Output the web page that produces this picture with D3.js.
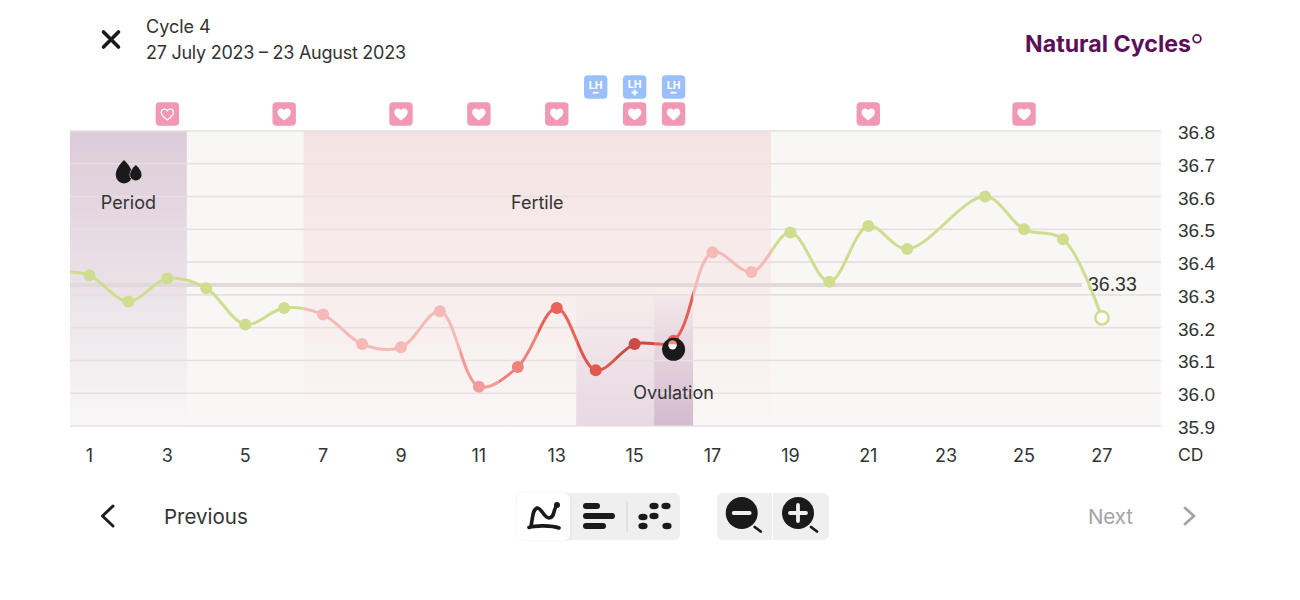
<!DOCTYPE html>
<html><head><meta charset="utf-8">
<script src="https://cdn.jsdelivr.net/npm/d3@7/dist/d3.min.js"></script>
<style>
html,body{margin:0;padding:0;background:#fff;overflow:hidden}
svg{display:block}
text{font-family:Inter,"Noto Sans",sans-serif;fill:#333}
.num text,.num{font-family:"Liberation Sans",Arial,sans-serif;fill:#333;font-size:18.5px}
</style></head><body>
<svg id="c" width="1300" height="600"></svg>
<script>
// ---- data ----
const lineDays  = [0.5,1,2,3,4,5,6,7,8,9,10,11,12,13,14,15,16,17,18,19,20,21,22,24,25,26,27];
const lineTemps = [36.37,36.36,36.28,36.35,36.32,36.21,36.26,36.24,36.15,36.14,36.25,36.02,36.08,36.26,36.07,36.15,36.16,36.43,36.37,36.49,36.34,36.51,36.44,36.60,36.50,36.47,36.23];
const dotColors = ["none","#cfdd8f","#cfdd8f","#cfdd8f","#cfdd8f","#cfdd8f","#cfdd8f","#f5b9b6","#f5b9b6","#f5b9b6","#f5b9b6","#f39b96","#ef807a","#ea6259","#e0574e","#cd4a45","#e65f56","#f5b9b6","#f5b9b6","#cfdd8f","#cfdd8f","#cfdd8f","#cfdd8f","#cfdd8f","#cfdd8f","#cfdd8f","#cfdd8f"];
const xTicks = [1,3,5,7,9,11,13,15,17,19,21,23,25,27];
const yTicks = [35.9,36.0,36.1,36.2,36.3,36.4,36.5,36.6,36.7,36.8];
const heartDays = [3,6,9,11,13,15,16,21,25];
const heartOutline = [3];
const lhDays = [14,15,16];
const lhSigns = ["-","+","-"];
const coverLine = 36.33;
const phaseLabels = [["Period",2],["Fertile",12.5]];
const bands = [
 {from:0.5,to:3.5,top:"#dccbd9",bot:"#f8f7f6",y0:36.8,y1:35.9},
 {from:6.5,to:18.5,top:"#f5e3e3",bot:"#f9f6f5",y0:36.8,y1:35.9},
 {from:13.5,to:15.5,top:"#f6ecec",bot:"#e6d9e3",y0:36.3,y1:35.9},
 {from:15.5,to:16.5,top:"#f2e8ea",bot:"#d4bacf",y0:36.3,y1:35.9}
];
const colorBreaks = [[0.5,6.5,"#cfdd8f"],[6.5,10.5,"#f5b9b6"],[10.5,11.5,"#f39b96"],[11.5,12.5,"#ef807a"],[12.5,13.5,"#ea6259"],[13.5,14.5,"#e0574e"],[14.5,15.5,"#cd4a45"],[15.5,16.5,"#e65f56"],[16.5,18.5,"#f5b9b6"],[18.5,27.5,"#cfdd8f"]];

// ---- scales ----
const svg = d3.select("#c");
const xEnd = 28.517;
const x = d3.scaleLinear().domain([0.5,xEnd]).range([70,1161]);
const y = d3.scaleLinear().domain([35.9,36.8]).range([426,131]);
const defs = svg.append("defs");

// background
svg.append("rect").attr("x",x(0.5)).attr("y",y(36.8)).attr("width",x(xEnd)-x(0.5)).attr("height",y(35.9)-y(36.8)).attr("fill","#f8f7f6");
bands.forEach((b,i)=>{
  const g = defs.append("linearGradient").attr("id","b"+i).attr("x1",0).attr("x2",0).attr("y1",0).attr("y2",1);
  g.append("stop").attr("offset",0).attr("stop-color",b.top);
  g.append("stop").attr("offset",1).attr("stop-color",b.bot);
  svg.append("rect").attr("x",x(b.from)).attr("width",x(b.to)-x(b.from)).attr("y",y(b.y0)).attr("height",y(b.y1)-y(b.y0)).attr("fill",`url(#b${i})`);
});

// grid
svg.append("g").selectAll("line").data(yTicks).join("line")
 .attr("x1",x(0.5)).attr("x2",x(xEnd)).attr("y1",d=>y(d)).attr("y2",d=>y(d))
 .attr("stroke","#e9dfdf").attr("stroke-width",1.6);
svg.append("line").attr("x1",x(0.5)).attr("x2",x(27)-20).attr("y1",y(coverLine)).attr("y2",y(coverLine)).attr("stroke","#e2d9da").attr("stroke-width",4);
svg.append("text").attr("class","num").attr("x",1088).attr("y",y(coverLine)+5.5).style("font-size","19.5px").text(coverLine);

// axes
const ax = svg.append("g").attr("class","num").attr("transform",`translate(0,${y(35.9)})`)
 .call(d3.axisBottom(x).tickValues(xTicks).tickSize(0).tickPadding(23).offset(0).tickFormat(d3.format("d")));
ax.select(".domain").remove();
ax.selectAll("text").style("font-size","18px").style("font-family",'Inter,sans-serif');
const ay = svg.append("g").attr("class","num").attr("transform",`translate(1178,0)`)
 .call(d3.axisRight(y).tickValues(yTicks).tickSize(0).tickPadding(0).offset(0).tickFormat(d3.format(".1f")));
ay.select(".domain").remove();
ay.selectAll("text").attr("dy","0.42em").style("font-size","19px");
svg.append("text").attr("x",1178).attr("y",461).attr("font-size",17.5).text("CD");

// line
const line = d3.line().x((d,i)=>x(lineDays[i])).y(d=>y(d)).curve(d3.curveCatmullRom.alpha(0.5));
const pathD = line(lineTemps);
colorBreaks.forEach((c,i)=>{
  defs.append("clipPath").attr("id","cl"+i).append("rect").attr("x",x(c[0])).attr("width",x(c[1])-x(c[0])).attr("y",0).attr("height",600);
  svg.append("path").attr("d",pathD).attr("fill","none").attr("stroke",c[2]).attr("stroke-width",3).attr("clip-path",`url(#cl${i})`);
});
// dots
svg.append("g").selectAll("circle").data(lineTemps.slice(1,-1)).join("circle")
 .attr("cx",(d,i)=>x(lineDays[i+1])).attr("cy",d=>y(d)).attr("r",6).attr("fill",(d,i)=>dotColors[i+1]);
svg.append("circle").attr("cx",x(27)).attr("cy",y(lineTemps[lineTemps.length-1])).attr("r",6.6).attr("fill","#fff").attr("stroke","#cfdd8f").attr("stroke-width",2.6);

// ovulation marker
const ovX = x(16), ovY = y(lineTemps[lineDays.indexOf(16)])+8.5;
svg.append("circle").attr("cx",ovX).attr("cy",ovY).attr("r",11.5).attr("fill","#1a1a1a");
svg.append("circle").attr("cx",ovX-1).attr("cy",ovY-4).attr("r",4.2).attr("fill","#fdf3ef");
svg.append("path").attr("d",`M${ovX-5},${ovY-5}a4,4 0 0 1 8,0z`).attr("fill","#ee8d84");

// text labels
phaseLabels.forEach(p=>svg.append("text").attr("x",x(p[1])).attr("y",208.5).attr("text-anchor","middle").attr("font-size",18).text(p[0]));
svg.append("text").attr("x",x(16)).attr("y",398.5).attr("text-anchor","middle").attr("font-size",18).text("Ovulation");
// drops
const drop=(cx,top,w,h)=>`M${cx},${top}C${cx+w*.28},${top+h*.2} ${cx+w/2},${top+h*.4} ${cx+w/2},${top+h*.64}A${w/2},${h*.36} 0 0 1 ${cx-w/2},${top+h*.64}C${cx-w/2},${top+h*.4} ${cx-w*.28},${top+h*.2} ${cx},${top}z`;
svg.append("path").attr("d",drop(124,160,16.5,23.5)).attr("fill","#1a1a1a");
svg.append("path").attr("d",drop(135.8,165,11.5,15.5)).attr("fill","#1a1a1a").attr("stroke","#dfd0dc").attr("stroke-width",1.2).attr("paint-order","stroke");

// heart markers
const heart="M0,6.2C-2,4.6 -6.4,1.8 -6.4,-1.6C-6.4,-3.9 -4.7,-5.2 -3,-5.2C-1.7,-5.2 -.6,-4.5 0,-3.4C.6,-4.5 1.7,-5.2 3,-5.2C4.7,-5.2 6.4,-3.9 6.4,-1.6C6.4,1.8 2,4.6 0,6.2z";
const hg = svg.append("g").selectAll("g").data(heartDays).join("g").attr("transform",d=>`translate(${x(d)},114)`);
hg.append("rect").attr("x",-11.7).attr("y",-11.7).attr("width",23.4).attr("height",23.4).attr("rx",4).attr("fill","#f098b6");
hg.append("path").attr("d",heart).attr("fill",d=>heartOutline.includes(d)?"none":"#fff").attr("stroke","#fff").attr("stroke-width",d=>heartOutline.includes(d)?1.3:0).attr("transform",d=>heartOutline.includes(d)?"scale(.95)":"scale(1.05)");

// LH markers
const lg = svg.append("g").selectAll("g").data(lhDays).join("g").attr("transform",d=>`translate(${x(d)},87)`);
lg.append("rect").attr("x",-11.7).attr("y",-11.7).attr("width",23.4).attr("height",23.4).attr("rx",4).attr("fill","#9bbffb");
lg.append("text").attr("y",(d,i)=>lhSigns[i]==="+"?0.5:2).attr("text-anchor","middle").attr("font-size",11).attr("font-weight",700).style("fill","#fff").style("font-family","Roboto").text("LH");
lg.append("path").attr("d",(d,i)=>lhSigns[i]==="+"?"M-3,5.5H3M0,2.5V8.5":"M-3,5.7H3").attr("stroke","#fff").attr("stroke-width",1.8).attr("fill","none");

// header
svg.append("path").attr("d","M103.5,32L118.5,47M118.5,32L103.5,47").attr("stroke","#1a1a1a").attr("stroke-width",3.6).attr("stroke-linecap","round");
svg.append("text").attr("x",146).attr("y",33).attr("font-size",18).text("Cycle 4");
svg.append("text").attr("x",146).attr("y",59).attr("font-size",18).attr("textLength",260).text("27 July 2023 – 23 August 2023");
svg.append("text").attr("x",1025).attr("y",51.5).attr("font-size",23).attr("font-weight",700).attr("textLength",166).attr("lengthAdjust","spacingAndGlyphs").style("fill","#5c1058").text("Natural Cycles");
svg.append("circle").attr("cx",1197).attr("cy",38.8).attr("r",3.9).attr("fill","none").attr("stroke","#5c1058").attr("stroke-width",1.7);

// footer
svg.append("path").attr("d","M113,506L102.5,516L113,526").attr("fill","none").attr("stroke","#1f1f1f").attr("stroke-width",3).attr("stroke-linecap","round").attr("stroke-linejoin","round");
svg.append("text").attr("x",164).attr("y",523.5).attr("font-size",20.5).text("Previous");
svg.append("text").attr("x",1088).attr("y",523.5).attr("font-size",20.5).attr("textLength",45).style("fill","#a3a3a3").text("Next");
svg.append("path").attr("d","M1185,508L1194,516L1185,524").attr("fill","none").attr("stroke","#a3a3a3").attr("stroke-width",2.8).attr("stroke-linecap","round").attr("stroke-linejoin","round");

// toolbar
const flt=defs.append("filter").attr("id","sh").attr("x","-20%").attr("y","-20%").attr("width","140%").attr("height","140%");
flt.append("feDropShadow").attr("dx",0).attr("dy",0).attr("stdDeviation",1.5).attr("flood-color","#000").attr("flood-opacity",.08);
svg.append("rect").attr("x",517).attr("y",493).attr("width",163).attr("height",47).attr("rx",6).attr("fill","#f0efef");
svg.append("rect").attr("x",517).attr("y",493).attr("width",53).attr("height",47).attr("rx",6).attr("fill","#fff").attr("filter","url(#sh)");
const ink="#1a1a1a";
svg.append("path").attr("d","M529,527.5C536,525 552,525.5 559,528M531,526C533,518 532,510 537,508C541,507 544,518 549,518C555,518 553,509 557,505").attr("fill","none").attr("stroke",ink).attr("stroke-width",3.6).attr("stroke-linecap","round");
svg.append("circle").attr("cx",557).attr("cy",505).attr("r",3).attr("fill",ink);
[[583,506,600],[583,516,615],[583,526,606]].forEach(l=>svg.append("line").attr("x1",l[0]+3).attr("x2",l[2]-3).attr("y1",l[1]).attr("y2",l[1]).attr("stroke",ink).attr("stroke-width",6).attr("stroke-linecap","round"));
svg.append("line").attr("x1",627).attr("x2",627).attr("y1",501).attr("y2",532).attr("stroke","#dcdcdc").attr("stroke-width",1.5);
[[654,506],[666,506],[643,517],[654,516],[643,526],[667,526]].forEach(p=>svg.append("ellipse").attr("cx",p[0]).attr("cy",p[1]).attr("rx",4.6).attr("ry",3.2).attr("fill",ink));
svg.append("rect").attr("x",717).attr("y",493).attr("width",112).attr("height",47).attr("rx",6).attr("fill","#f0efef");
svg.append("line").attr("x1",772.5).attr("x2",772.5).attr("y1",493).attr("y2",540).attr("stroke","#fff").attr("stroke-width",1.2);
[[741.7,"M-8,0H8"],[798,"M-8,0H8M0,-8V8"]].forEach(z=>{
  const g=svg.append("g").attr("transform",`translate(${z[0]},513)`);
  g.append("circle").attr("r",16).attr("fill",ink);
  g.append("path").attr("d",z[1]).attr("stroke","#f0efef").attr("stroke-width",3.8).attr("stroke-linecap","round");
  g.append("line").attr("x1",13).attr("y1",14).attr("x2",19).attr("y2",18.5).attr("stroke",ink).attr("stroke-width",2.8).attr("stroke-linecap","round");
});
</script></body></html>
